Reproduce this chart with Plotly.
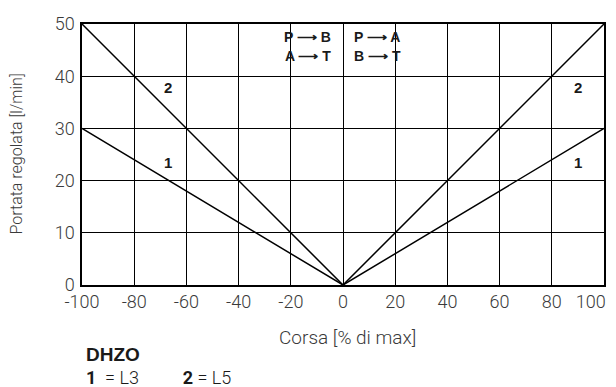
import plotly.graph_objects as go

# Data
corsa = [-100, 0, 100]
portata_l3 = [30, 0, 30]   # curve 1
portata_l5 = [50, 0, 50]   # curve 2

x_ticks = [-100, -80, -60, -40, -20, 0, 20, 40, 60, 80, 100]
x_labels = ["-100", "-80", "-60", "-40", "-20", "0", "20", "40", "60", "80", "100"]
y_ticks = [0, 10, 20, 30, 40, 50]

light_font = "Roboto, Liberation Sans, Arial, sans-serif"
bold_font = "Liberation Sans, Arial, sans-serif"
text_color = "#3a3a3a"
bold_color = "#1a1a1a"

# last label would run past the page edge; pad it so it stays visible
x_labels[-1] = x_labels[-1] + "\u00a0" * 6

fig = go.Figure()

fig.add_trace(go.Scatter(x=corsa, y=portata_l3, mode="lines",
                         line=dict(color="black", width=1.5), showlegend=False))
fig.add_trace(go.Scatter(x=corsa, y=portata_l5, mode="lines",
                         line=dict(color="black", width=1.5), showlegend=False))

# Curve labels
for x, y, t in [(-67, 37.9, "2"), (-67, 23.4, "1"), (90, 37.9, "2"), (90, 23.4, "1")]:
    fig.add_annotation(x=x, y=y, text=f"<b>{t}</b>", showarrow=False,
                       font=dict(size=15, color=bold_color, family=bold_font))

# Direction labels near the centre
dir_font = dict(size=14, color=bold_color, family=bold_font)
for txt, yv, side in [("P", 47.5, "B"), ("A", 43.8, "T")]:
    fig.add_annotation(x=0, y=yv, text=f"<b>{txt} ⟶ {side}</b>", showarrow=False,
                       xanchor="right", yanchor="middle", xshift=-10, font=dir_font)
for txt, yv, side in [("P", 47.5, "A"), ("B", 43.8, "T")]:
    fig.add_annotation(x=0, y=yv, text=f"<b>{txt} ⟶ {side}</b>", showarrow=False,
                       xanchor="left", yanchor="middle", xshift=9, font=dir_font)

# Footer text
fig.add_annotation(xref="paper", yref="paper", x=0.5, y=-0.203, yanchor="middle",
                   xshift=4, text="Corsa [% di max]", showarrow=False,
                   font=dict(size=19, color=text_color, family=light_font, weight=300))
fig.add_annotation(xref="paper", yref="paper", x=0.0, y=-0.268, xanchor="left",
                   yanchor="middle", xshift=2, text="<b>DHZO</b>", showarrow=False,
                   font=dict(size=19, color=bold_color, family=bold_font))
fig.add_annotation(xref="paper", yref="paper", x=0.0, y=-0.356, xanchor="left",
                   yanchor="middle", xshift=2,
                   text="<b>1</b>\u00a0\u00a0= L3" + "\u00a0" * 10 + "<b>2</b> = L5",
                   showarrow=False,
                   font=dict(size=18, color=bold_color, family=light_font, weight=300))

# Y axis title placed in the left margin
fig.add_annotation(xref="paper", yref="paper", x=0, xshift=-66, y=0.5, xanchor="center",
                   yanchor="middle", text="Portata regolata [l/min]", textangle=-90,
                   showarrow=False,
                   font=dict(size=16, color=text_color, family=light_font, weight=300))

fig.update_layout(
    width=608, height=379,
    margin=dict(l=74, r=12, t=16, b=102, autoexpand=False),
    paper_bgcolor="white", plot_bgcolor="white",
    font=dict(family=light_font, size=18, color=text_color, weight=300),
    xaxis=dict(range=[-100, 100], tickvals=x_ticks, ticktext=x_labels, showgrid=True,
               gridcolor="black", gridwidth=1, zeroline=True, zerolinecolor="black",
               zerolinewidth=1.3, showline=True, linecolor="black", linewidth=1.5,
               mirror=True, ticks="", ticklabelstandoff=0, automargin=False,
               ticklabeloverflow="allow"),
    yaxis=dict(range=[0, 50], tickvals=y_ticks, showgrid=True, gridcolor="black",
               gridwidth=1, zeroline=False, showline=True, linecolor="black",
               linewidth=1.5, mirror=True, ticks="", ticklabelstandoff=2,
               automargin=False, ticklabeloverflow="allow"),
)

fig.write_html("out.html")
